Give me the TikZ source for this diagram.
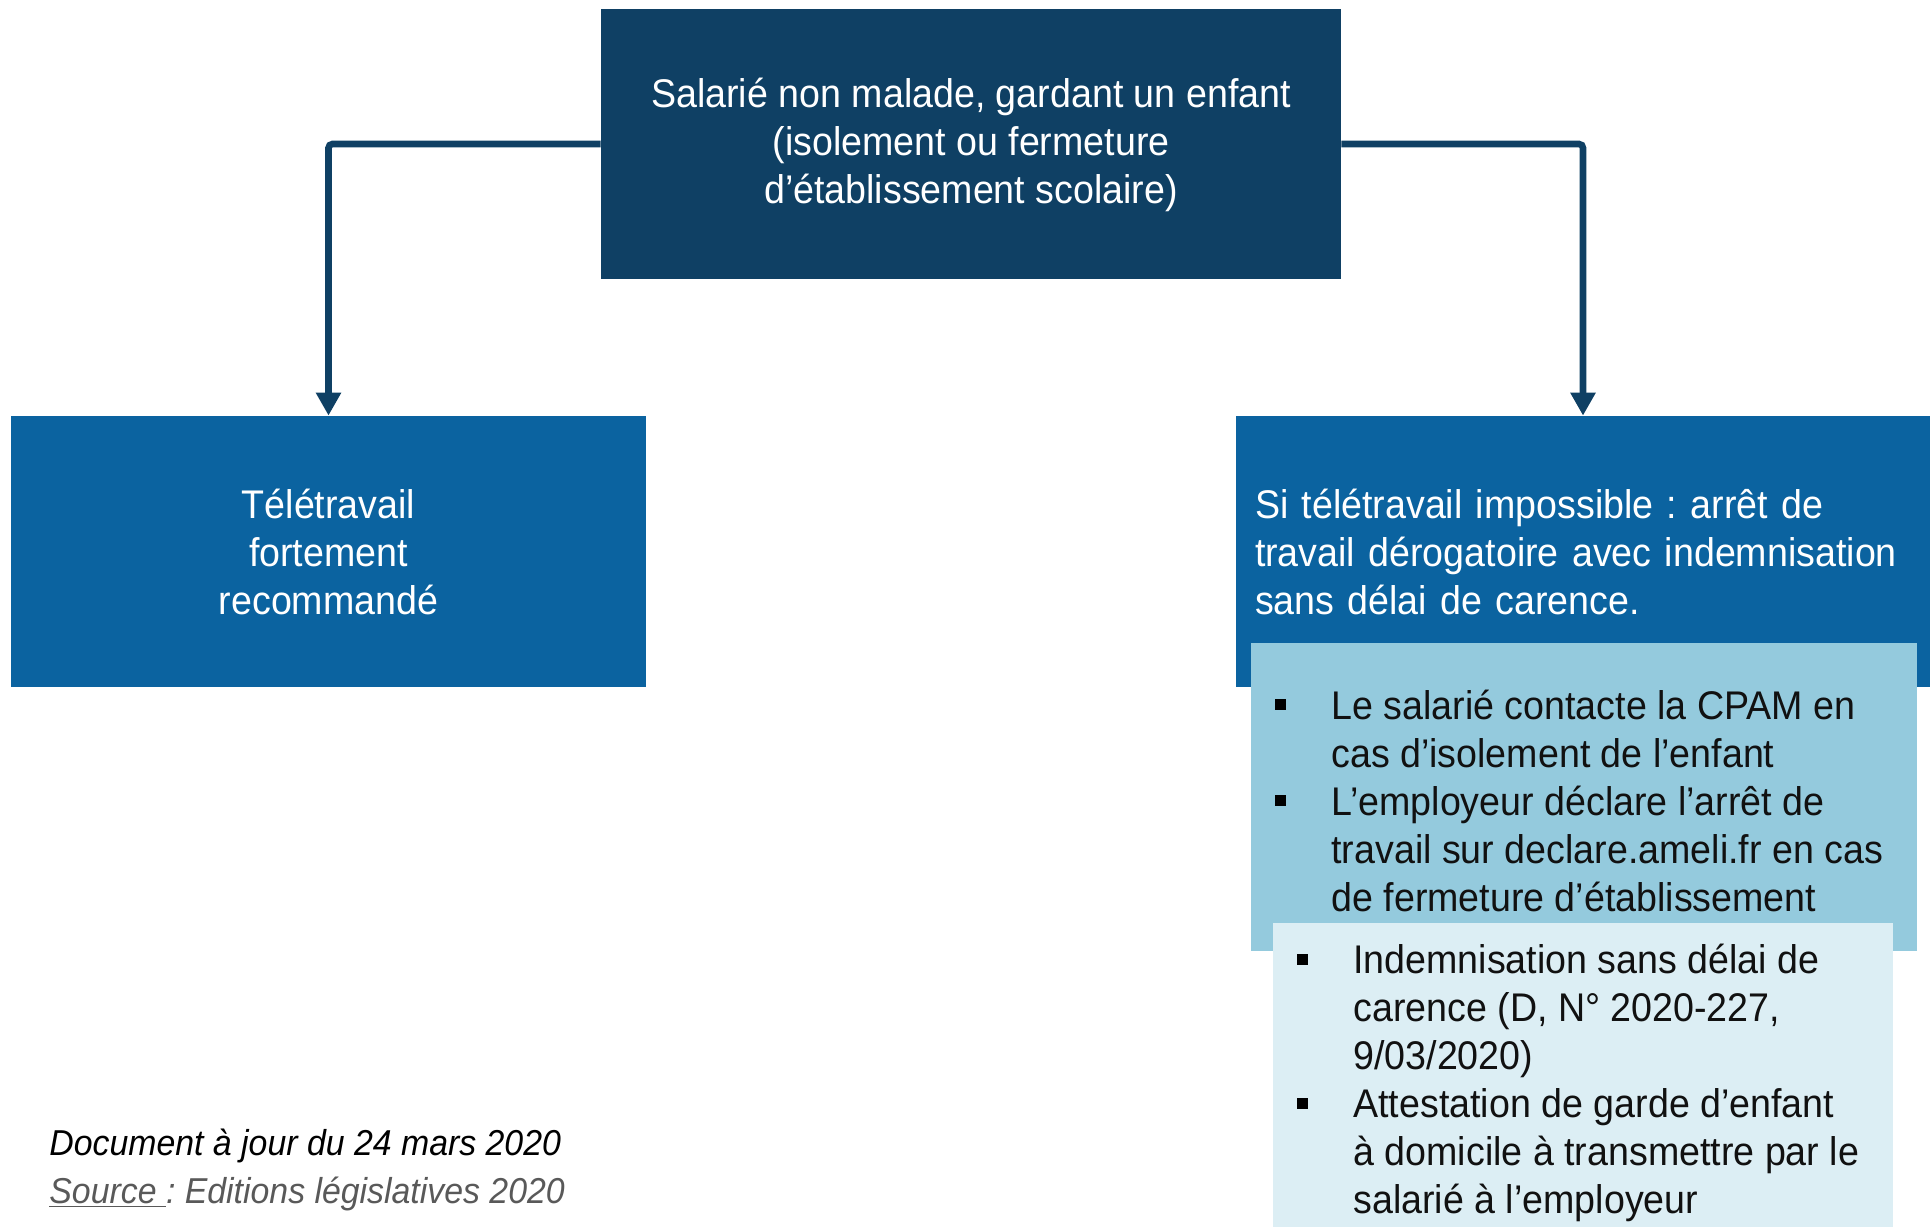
\documentclass[tikz,border=0pt]{standalone}
\usepackage{fontspec}
\setmainfont{Liberation Sans}[FakeStretch=0.94]
\usetikzlibrary{arrows.meta}
\frenchspacing
\definecolor{navy}{HTML}{0F4064}
\definecolor{midblue}{HTML}{0B63A0}
\definecolor{skyblue}{HTML}{94CADD}
\definecolor{paleblue}{HTML}{DCEEF4}
\definecolor{inktext}{HTML}{111111}
\definecolor{srcgray}{HTML}{595959}
\tikzset{
  boxfont/.style={font={\fontsize{20}{24}\selectfont\frenchspacing}},
  topbox/.style={boxfont, fill=navy, text=white, align=center, inner sep=0pt,
    minimum width=370pt, minimum height=135pt},
  sidebox/.style={boxfont, fill=midblue, text=white, inner sep=0pt,
    minimum height=135.5pt},
  listbox/.style={inner sep=0pt},
  itemtext/.style={boxfont, text=inktext, anchor=north west, align=left, inner sep=0pt},
  bul/.style={fill=black, inner sep=0pt, minimum size=5.5pt},
  conn/.style={draw=navy, line width=3.3pt, rounded corners=2pt,
    -{Triangle[width=12pt,length=11.5pt]}},
  foot/.style={font={\fontsize{18}{24}\selectfont\itshape\frenchspacing}, anchor=base west, inner sep=0pt}
}
\begin{document}
\begin{tikzpicture}[x=0.5pt,y=-0.5pt]
\useasboundingbox (0,0) rectangle (1930,1227);
% top box
\node[topbox] (top) at (971,144)
  {\rule{0pt}{0pt}\\[-8pt]Salarié non malade, gardant un enfant\\(isolement ou fermeture\\d’établissement scolaire)};
% left box
\node[sidebox, align=center, minimum width=317.5pt] (left) at (328.5,551.5)
  {Télétravail\\fortement\\recommandé};
% right box
\node[sidebox, align=left, text width=328pt, inner xsep=9.5pt] (right) at (1583,551.5)
  {Si télétravail impossible : arrêt de\\travail dérogatoire avec indemnisation\\sans délai de carence.};
% list boxes
\node[listbox, fill=skyblue, minimum width=333pt, minimum height=154pt] (list1) at (1584,797) {};
\node[listbox, fill=paleblue, minimum width=310pt, minimum height=152pt] (list2) at (1583,1075) {};
% list 1 items
\node[bul] (b1) at (1280,704) {};
\node[itemtext] (t1) at (1331,685.4) {\strut Le salarié contacte la CPAM en\\cas d’isolement de l’enfant};
\node[bul] (b2) at (1280,800) {};
\node[itemtext] (t2) at (1331,781.4) {\strut L’employeur déclare l’arrêt de\\travail sur declare.ameli.fr en cas\\de fermeture d’établissement};
% list 2 items
\node[bul] (b3) at (1302,959) {};
\node[itemtext] (t3) at (1353,939.4) {\strut Indemnisation sans délai de\\carence (D, N° 2020-227,\\9/03/2020)};
\node[bul] (b4) at (1302,1103) {};
\node[itemtext] (t4) at (1353,1083.4) {\strut Attestation de garde d’enfant\\à domicile à transmettre par le\\salarié à l’employeur};
% connectors
\draw[conn] (top.west) -| (left.north);
\draw[conn] (top.east) -| (right.north);
% footnote
\node[foot, text=black] (doc) at (49,1155) {Document à jour du 24 mars 2020};
\node[foot, text=srcgray] (src) at (49,1203) {\underline{Source\ }: Editions législatives 2020};
\end{tikzpicture}
\end{document}
